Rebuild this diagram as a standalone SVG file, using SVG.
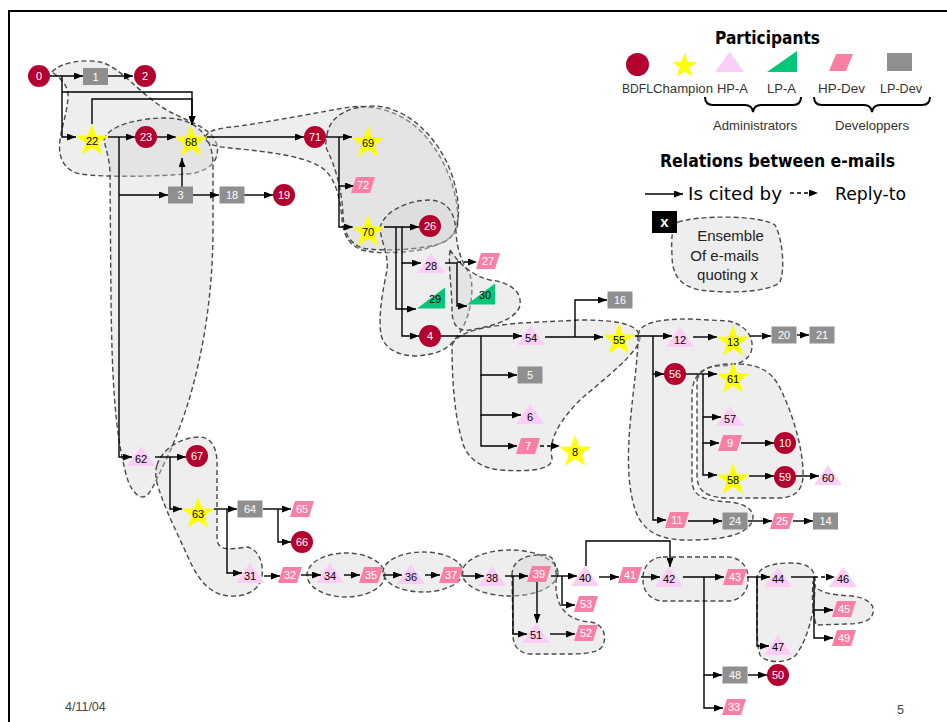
<svg xmlns="http://www.w3.org/2000/svg" xmlns:xlink="http://www.w3.org/1999/xlink" width="947" height="722" viewBox="0 0 947 722">
<style>
.e{fill:none;stroke:#000;stroke-width:1.4;marker-end:url(#ah)}
.en{fill:none;stroke:#000;stroke-width:1.4}
.d{stroke-dasharray:4 3}
.b{fill:#d4d4d4;fill-opacity:0.4;stroke:#4a4a4a;stroke-width:1.4;stroke-dasharray:5 3}
.l{font-family:"Liberation Sans",Arial,sans-serif;font-size:11px;text-anchor:middle}
.w{fill:#fff}
.k{fill:#000}
.leg{font-family:"Liberation Sans",Arial,sans-serif;font-size:12.5px;fill:#333}
.cm{font-family:"DejaVu Sans",sans-serif;fill:#000}
</style>
<defs>
<marker id="ah" viewBox="0 0 9 7" refX="9" refY="3.5" markerWidth="9" markerHeight="7" markerUnits="userSpaceOnUse" orient="auto"><path d="M0,0 L9,3.5 L0,7 Z" fill="#000"/></marker>
<circle id="circ" r="11" fill="#b4002e"/>
<polygon id="star" points="0,-17 4,-5.5 16.2,-5.3 6.5,2.1 10,13.8 0,6.8 -10,13.8 -6.5,2.1 -16.2,-5.3 -4,-5.5" fill="#ffff00"/>
<polygon id="tri" points="0,-10 14,10 -14,10" fill="#fccdf6"/>
<polygon id="gtri" points="-14,10.5 14,10.5 14,-10.5" fill="#00c878"/>
<polygon id="para" points="-7,-8 12,-8 7,8 -12,8" fill="#fa7fa5"/>
<rect id="rct" x="-12.5" y="-8.5" width="25" height="17" fill="#8f8f8f"/>
</defs>
<rect width="947" height="722" fill="#fff"/>
<path d="M9,722 V11 H947" fill="none" stroke="#000" stroke-width="2"/>

<g id="ensembles">
<path class="b" d="M52,72 C60,62 85,59 100,62 C120,66 140,95 170,112 C190,122 212,128 217,145 C220,160 210,172 187,174 C160,176 110,178 80,174 C62,170 58,155 60,140 C62,125 68,110 68,95 C68,85 60,78 52,72 Z"/>
<path class="b" d="M104,140 C108,125 140,118 165,118 C195,118 213,135 213,165 L213,235 C212,320 195,400 165,462 C155,482 150,497 143,497 C135,497 128,485 125,470 C115,430 112,380 111,300 L110,175 C110,160 106,150 104,140 Z"/>
<path class="b" d="M205,137 C210,128 225,128 240,126 C280,120 320,112 350,107 C380,104 410,115 430,142 C448,165 458,195 458,220 C458,236 445,244 420,250 C400,253 375,254 362,250 C350,245 344,238 342,220 C340,195 335,180 325,170 C310,158 280,153 240,149 C222,147 207,147 205,137 Z"/>
<path class="b" d="M327,135 C330,115 350,106 375,106 C410,108 440,140 452,175 C460,200 462,225 450,238 C440,250 380,252 362,248 C348,242 344,232 343,215 C342,190 335,165 327,150 C325,145 326,140 327,135 Z"/>
<path class="b" d="M380,228 C384,210 410,200 430,200 C448,201 455,213 456,232 C457,250 462,262 470,275 C475,290 470,320 458,335 C450,348 440,354 417,356 C400,356 385,350 381,335 C378,315 383,290 387,270 C389,255 381,242 380,228 Z"/>
<path class="b" d="M450,250 C458,262 470,275 490,280 C510,282 522,292 520,305 C518,318 495,326 470,330 C458,332 452,325 452,310 C452,290 448,265 450,250 Z"/>
<path class="b" d="M452,345 C458,330 490,326 520,323 L580,320 C610,320 638,322 640,337 C640,352 605,378 580,400 C560,420 548,440 552,458 C553,470 530,472 500,470 C478,468 465,455 462,440 C456,420 452,390 452,345 Z"/>
<path class="b" d="M638,335 C640,322 660,319 690,319 L728,321 C748,325 755,340 751,352 C747,362 735,366 718,366 C700,367 692,378 692,395 L692,480 C692,495 702,501 730,502 C748,504 756,512 752,522 C745,535 725,539 695,540 C665,541 645,535 636,512 C628,490 627,460 630,425 C633,390 638,360 638,335 Z"/>
<path class="b" d="M697,380 C700,368 715,363 740,364 C760,365 772,372 780,388 C792,412 802,445 803,470 C804,488 798,497 780,498 L725,498 C705,497 697,490 697,475 Z"/>
<path class="b" d="M157,465 C163,447 183,437 200,437 C213,438 218,450 217,470 L217,540 C219,552 232,549 247,547 C258,549 264,562 262,577 C259,591 245,597 230,596 C210,595 198,580 188,557 C178,535 168,515 162,498 C157,485 154,475 157,465 Z"/>
<ellipse class="b" cx="346" cy="575" rx="39" ry="22"/>
<ellipse class="b" cx="423" cy="572" rx="40" ry="20"/>
<ellipse class="b" cx="510" cy="573" rx="48" ry="23"/>
<path class="b" d="M512,575 C512,558 530,554 545,555 C555,556 557,566 556,585 C556,605 565,620 590,622 C605,623 608,640 601,648 C595,654 580,654 560,654 L530,654 C518,653 513,645 513,635 Z"/>
<rect class="b" x="643" y="557" width="105" height="44" rx="20"/>
<path class="b" d="M757,580 C756,568 770,563 790,563 C810,563 816,570 815,585 C815,610 808,640 795,656 C785,664 765,663 760,655 C755,640 758,610 757,580 Z"/>
<path class="b" d="M813,583 C818,594 835,595 852,596 C868,598 875,605 873,613 C871,622 860,624 845,624 L816,625 C812,610 812,595 813,583 Z"/>
</g>

<g id="connectors">
<path class="e" d="M50,76 H83"/>
<path class="e" d="M108,76 H133"/>
<path class="e" d="M62,76 V137 H76"/>
<path class="e" d="M62,92 H192 V125"/>
<path class="e" d="M92,124 V99 H192 V125"/>
<path class="e" d="M108,137 H135"/>
<path class="e" d="M157,137 H176"/>
<path class="e" d="M119,137 V457 H132"/>
<path class="e" d="M119,195 H168"/>
<path class="e" d="M182,187 V158"/>
<path class="e" d="M193,195 H219"/>
<path class="e" d="M244,195 H273"/>
<path class="e" d="M207,137 H304"/>
<path class="e" d="M326,137 H352"/>
<path class="e" d="M339,137 V186 H354"/>
<path class="e" d="M339,186 V227 H353"/>
<path class="e" d="M384,227 H419"/>
<path class="e" d="M402,227 V263 H421"/>
<path class="e" d="M402,263 V336 H419"/>
<path class="e" d="M396,227 V309 H416"/>
<path class="en" d="M445,263 H457"/>
<path class="e d" d="M457,262 H477"/>
<path class="e" d="M457,263 V306 H467"/>
<path class="e" d="M441,336 H522"/>
<path class="e" d="M481,336 V375 H517"/>
<path class="e" d="M481,375 V415 H521"/>
<path class="e" d="M481,415 V446 H517"/>
<path class="e d" d="M540,446 H560"/>
<path class="e" d="M545,337 H603"/>
<path class="e" d="M575,337 V300 H607"/>
<path class="e" d="M635,336 H672"/>
<path class="e" d="M653,336 V374 H664"/>
<path class="e" d="M653,374 V520 H666"/>
<path class="e" d="M693,337 H717"/>
<path class="e" d="M750,336 H771"/>
<path class="e" d="M797,335 H809"/>
<path class="e" d="M686,374 H717"/>
<path class="e" d="M703,374 V417 H721"/>
<path class="e" d="M703,417 V443 H719"/>
<path class="e" d="M703,443 V475 H717"/>
<path class="e" d="M741,443 H774"/>
<path class="e" d="M749,476 H774"/>
<path class="e" d="M796,476 H819"/>
<path class="e" d="M688,521 H722"/>
<path class="e" d="M748,521 H772"/>
<path class="e" d="M793,521 H813"/>
<path class="e" d="M155,457 H186"/>
<path class="e" d="M170,457 V509 H182"/>
<path class="e" d="M214,509 H237"/>
<path class="e" d="M227,509 V573 H242"/>
<path class="e" d="M263,509 H291"/>
<path class="e" d="M278,509 V542 H291"/>
<path class="e" d="M264,576 H280"/>
<path class="e" d="M301,575 H321"/>
<path class="e" d="M344,575 H360"/>
<path class="e" d="M383,575 H402"/>
<path class="e" d="M425,575 H440"/>
<path class="e" d="M463,576 H484"/>
<path class="e" d="M505,576 H528"/>
<path class="e" d="M513,576 V634 H527"/>
<path class="e" d="M537,582 V623"/>
<path class="e" d="M551,576 H577"/>
<path class="e" d="M562,576 V605 H575"/>
<path class="e" d="M550,634 H575"/>
<path class="e" d="M586,566 V541 H670 V567"/>
<path class="e" d="M599,577 H619"/>
<path class="e" d="M641,577 H660"/>
<path class="e" d="M683,577 H724"/>
<path class="e" d="M704,577 V675 H722"/>
<path class="e" d="M704,675 V708 H723"/>
<path class="e" d="M747,577 H770"/>
<path class="e" d="M757,577 V646 H769"/>
<path class="en" d="M791,577 H814"/>
<path class="e d" d="M814,577 H835"/>
<path class="e" d="M814,577 V610 H833"/>
<path class="e" d="M814,610 V638 H833"/>
<path class="e" d="M748,675 H767"/>
</g>

<g id="nodes">
<g id="n0"><use href="#circ" x="39" y="76"/><text class="l w" x="39" y="80">0</text></g>
<g id="n2"><use href="#circ" x="145" y="76"/><text class="l w" x="145" y="80">2</text></g>
<g id="n23"><use href="#circ" x="146" y="137"/><text class="l w" x="146" y="141">23</text></g>
<g id="n19"><use href="#circ" x="284" y="195"/><text class="l w" x="284" y="199">19</text></g>
<g id="n71"><use href="#circ" x="315" y="137"/><text class="l w" x="315" y="141">71</text></g>
<g id="n26"><use href="#circ" x="430" y="226"/><text class="l w" x="430" y="230">26</text></g>
<g id="n4"><use href="#circ" x="430" y="336"/><text class="l w" x="430" y="340">4</text></g>
<g id="n56"><use href="#circ" x="675" y="374"/><text class="l w" x="675" y="378">56</text></g>
<g id="n10"><use href="#circ" x="785" y="443"/><text class="l w" x="785" y="447">10</text></g>
<g id="n59"><use href="#circ" x="785" y="477"/><text class="l w" x="785" y="481">59</text></g>
<g id="n67"><use href="#circ" x="197" y="456"/><text class="l w" x="197" y="460">67</text></g>
<g id="n66"><use href="#circ" x="302" y="542"/><text class="l w" x="302" y="546">66</text></g>
<g id="n50"><use href="#circ" x="778" y="675"/><text class="l w" x="778" y="679">50</text></g>

<g id="n22"><use href="#star" x="92" y="141"/><text class="l k" x="92" y="145">22</text></g>
<g id="n68"><use href="#star" x="191" y="142"/><text class="l k" x="191" y="146">68</text></g>
<g id="n69"><use href="#star" x="368" y="143"/><text class="l k" x="368" y="147">69</text></g>
<g id="n70"><use href="#star" x="368" y="232"/><text class="l k" x="368" y="236">70</text></g>
<g id="n55"><use href="#star" x="619" y="340"/><text class="l k" x="619" y="344">55</text></g>
<g id="n8"><use href="#star" x="575" y="452"/><text class="l k" x="575" y="456">8</text></g>
<g id="n13"><use href="#star" x="733" y="342"/><text class="l k" x="733" y="346">13</text></g>
<g id="n61"><use href="#star" x="733" y="379"/><text class="l k" x="733" y="383">61</text></g>
<g id="n58"><use href="#star" x="733" y="480"/><text class="l k" x="733" y="484">58</text></g>
<g id="n63"><use href="#star" x="198" y="514"/><text class="l k" x="198" y="518">63</text></g>

<g id="n28"><use href="#tri" x="431" y="263"/><text class="l k" x="431" y="270">28</text></g>
<g id="n54"><use href="#tri" x="531" y="335"/><text class="l k" x="531" y="342">54</text></g>
<g id="n6"><use href="#tri" x="530" y="414"/><text class="l k" x="530" y="421">6</text></g>
<g id="n12"><use href="#tri" x="680" y="337"/><text class="l k" x="680" y="344">12</text></g>
<g id="n57"><use href="#tri" x="730" y="416"/><text class="l k" x="730" y="423">57</text></g>
<g id="n60"><use href="#tri" x="828" y="475"/><text class="l k" x="828" y="482">60</text></g>
<g id="n62"><use href="#tri" x="141" y="456"/><text class="l k" x="141" y="463">62</text></g>
<g id="n31"><use href="#tri" x="250" y="573"/><text class="l k" x="250" y="580">31</text></g>
<g id="n34"><use href="#tri" x="330" y="573"/><text class="l k" x="330" y="580">34</text></g>
<g id="n36"><use href="#tri" x="411" y="574"/><text class="l k" x="411" y="581">36</text></g>
<g id="n38"><use href="#tri" x="492" y="576"/><text class="l k" x="492" y="582">38</text></g>
<g id="n40"><use href="#tri" x="585" y="576"/><text class="l k" x="585" y="582">40</text></g>
<g id="n42"><use href="#tri" x="669" y="577"/><text class="l k" x="669" y="583">42</text></g>
<g id="n44"><use href="#tri" x="778" y="577"/><text class="l k" x="778" y="583">44</text></g>
<g id="n46"><use href="#tri" x="843" y="577"/><text class="l k" x="843" y="583">46</text></g>
<g id="n47"><use href="#tri" x="778" y="645"/><text class="l k" x="778" y="651">47</text></g>
<g id="n51"><use href="#tri" x="536" y="633"/><text class="l k" x="536" y="639">51</text></g>

<g id="n29"><use href="#gtri" x="431" y="298"/><text class="l k" x="435" y="303">29</text></g>
<g id="n30"><use href="#gtri" x="481" y="294"/><text class="l k" x="485" y="299">30</text></g>

<g id="n72"><use href="#para" x="363" y="185"/><text class="l w" x="363" y="189">72</text></g>
<g id="n27"><use href="#para" x="488" y="261"/><text class="l w" x="488" y="265">27</text></g>
<g id="n7"><use href="#para" x="528" y="446"/><text class="l w" x="528" y="450">7</text></g>
<g id="n9"><use href="#para" x="730" y="443"/><text class="l w" x="730" y="447">9</text></g>
<g id="n11"><use href="#para" x="677" y="520"/><text class="l w" x="677" y="524">11</text></g>
<g id="n25"><use href="#para" x="782" y="521"/><text class="l w" x="782" y="525">25</text></g>
<g id="n65"><use href="#para" x="302" y="509"/><text class="l w" x="302" y="513">65</text></g>
<g id="n32"><use href="#para" x="290" y="575"/><text class="l w" x="290" y="579">32</text></g>
<g id="n35"><use href="#para" x="371" y="575"/><text class="l w" x="371" y="579">35</text></g>
<g id="n37"><use href="#para" x="451" y="575"/><text class="l w" x="451" y="579">37</text></g>
<g id="n39"><use href="#para" x="539" y="574"/><text class="l w" x="539" y="578">39</text></g>
<g id="n41"><use href="#para" x="630" y="575"/><text class="l w" x="630" y="579">41</text></g>
<g id="n43"><use href="#para" x="735" y="577"/><text class="l w" x="735" y="581">43</text></g>
<g id="n45"><use href="#para" x="844" y="609"/><text class="l w" x="844" y="613">45</text></g>
<g id="n49"><use href="#para" x="844" y="638"/><text class="l w" x="844" y="642">49</text></g>
<g id="n53"><use href="#para" x="586" y="604"/><text class="l w" x="586" y="608">53</text></g>
<g id="n52"><use href="#para" x="586" y="633"/><text class="l w" x="586" y="637">52</text></g>
<g id="n33"><use href="#para" x="734" y="707"/><text class="l w" x="734" y="711">33</text></g>

<g id="n1"><use href="#rct" x="95.5" y="76.5"/><text class="l w" x="95.5" y="80.5">1</text></g>
<g id="n3"><use href="#rct" x="180.5" y="195"/><text class="l w" x="180.5" y="199">3</text></g>
<g id="n18"><use href="#rct" x="232" y="195"/><text class="l w" x="232" y="199">18</text></g>
<g id="n16"><use href="#rct" x="620" y="300"/><text class="l w" x="620" y="304">16</text></g>
<g id="n5"><use href="#rct" x="530" y="375"/><text class="l w" x="530" y="379">5</text></g>
<g id="n20"><use href="#rct" x="784" y="335"/><text class="l w" x="784" y="339">20</text></g>
<g id="n21"><use href="#rct" x="822" y="335"/><text class="l w" x="822" y="339">21</text></g>
<g id="n24"><use href="#rct" x="735" y="521"/><text class="l w" x="735" y="525">24</text></g>
<g id="n14"><use href="#rct" x="825.5" y="521"/><text class="l w" x="825.5" y="525">14</text></g>
<g id="n64"><use href="#rct" x="250" y="509"/><text class="l w" x="250" y="513">64</text></g>
<g id="n48"><use href="#rct" x="735" y="675"/><text class="l w" x="735" y="679">48</text></g>
</g>

<g id="legend">
<text class="cm" x="715" y="44" font-size="17" font-weight="bold" textLength="105" lengthAdjust="spacingAndGlyphs">Participants</text>
<circle cx="637.5" cy="64.5" r="11.5" fill="#b4002e"/>
<use href="#star" transform="translate(684.5,66) scale(0.77)"/>
<polygon points="729.5,52 744,72 715,72" fill="#fccdf6"/>
<polygon points="767,72 797,72 797,51" fill="#00c878"/>
<polygon points="836,54 853,54 846,71 829,71" fill="#fa7fa5"/>
<rect x="887" y="53" width="25" height="18" fill="#8f8f8f"/>
<text class="leg" x="622" y="93" textLength="31" lengthAdjust="spacingAndGlyphs">BDFL</text>
<text class="leg" x="653" y="93" textLength="60" lengthAdjust="spacingAndGlyphs">Champion</text>
<text class="leg" x="717" y="93" textLength="31" lengthAdjust="spacingAndGlyphs">HP-A</text>
<text class="leg" x="767" y="93" textLength="29" lengthAdjust="spacingAndGlyphs">LP-A</text>
<text class="leg" x="818" y="93" textLength="47" lengthAdjust="spacingAndGlyphs">HP-Dev</text>
<text class="leg" x="880" y="93" textLength="42" lengthAdjust="spacingAndGlyphs">LP-Dev</text>
<path d="M705,97 Q705,105 713,105 H745 Q752,105 753,112 Q754,105 761,105 H793 Q801,105 801,97" fill="none" stroke="#000" stroke-width="2"/>
<path d="M814,97 Q814,105 822,105 H864 Q871,105 872,112 Q873,105 880,105 H922 Q930,105 930,97" fill="none" stroke="#000" stroke-width="2"/>
<text class="leg" x="713" y="130" textLength="84" lengthAdjust="spacingAndGlyphs">Administrators</text>
<text class="leg" x="835" y="130" textLength="74" lengthAdjust="spacingAndGlyphs">Developpers</text>
<text class="cm" x="660" y="167" font-size="18" font-weight="bold" textLength="235" lengthAdjust="spacingAndGlyphs">Relations between e-mails</text>
<path class="e" d="M645,194 H683"/>
<text class="cm" x="688" y="200" font-size="18" textLength="94" lengthAdjust="spacingAndGlyphs">Is cited by</text>
<path class="e d" d="M790,193 H818"/>
<text class="cm" x="835" y="200" font-size="18" textLength="71" lengthAdjust="spacingAndGlyphs">Reply-to</text>
<path class="b" d="M678,222 C700,215 760,215 775,225 C783,240 785,270 780,282 C770,292 730,294 700,290 C680,286 672,275 672,255 C671,238 672,226 678,222 Z"/>
<rect x="652" y="211" width="25" height="22" fill="#000"/>
<text x="664.5" y="227" font-family="Liberation Sans,Arial,sans-serif" font-size="15" font-weight="bold" fill="#fff" text-anchor="middle">x</text>
<text x="730.5" y="241" font-family="Liberation Sans,Arial,sans-serif" font-size="15" fill="#222" text-anchor="middle">Ensemble</text>
<text x="724.5" y="261" font-family="Liberation Sans,Arial,sans-serif" font-size="15" fill="#222" text-anchor="middle">Of e-mails</text>
<text x="727.5" y="280" font-family="Liberation Sans,Arial,sans-serif" font-size="15" fill="#222" text-anchor="middle">quoting x</text>
</g>

<g id="footer">
<text x="65" y="711" font-family="Liberation Sans,Arial,sans-serif" font-size="12.5" fill="#444">4/11/04</text>
<text x="897" y="714" font-family="Liberation Sans,Arial,sans-serif" font-size="12.5" fill="#444">5</text>
</g>
</svg>
